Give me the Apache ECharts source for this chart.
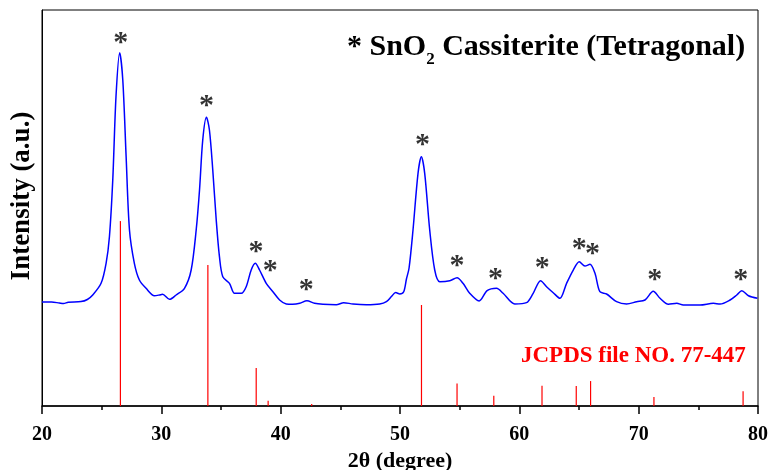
<!DOCTYPE html>
<html><head><meta charset="utf-8">
<script src="https://cdn.jsdelivr.net/npm/echarts@6/dist/echarts.min.js"></script>
<style>html,body{margin:0;padding:0;background:#fff}#c{width:769px;height:470px}</style>
</head><body><div id="c"></div>
<script>
// XRD pattern (2theta in degree, intensity in arbitrary units)
const curveX = [20.0,20.8,21.45,21.8,22.2,23.27,23.8,24.25,24.95,25.37,25.65,25.93,26.2,26.51,26.77,27.05,27.33,27.74,28.16,28.72,29.42,29.84,30.1,30.68,31.24,31.94,32.5,32.92,33.2,33.47,33.78,34.03,34.31,34.6,34.87,35.15,35.71,36.13,36.7,37.11,37.53,37.87,38.23,38.79,39.35,39.91,40.47,41.0,41.6,42.2,42.84,43.54,44.66,45.28,46.06,47.18,48.3,48.86,49.28,49.64,49.98,50.31,50.54,50.76,51.09,51.51,51.79,52.07,52.49,52.91,53.33,54.17,54.78,55.28,55.84,56.63,57.3,58.09,58.64,59.62,60.6,61.16,61.78,62.28,62.84,63.4,63.96,64.52,65.02,65.5,65.92,66.34,66.75,67.31,68.15,68.99,69.83,70.53,71.22,71.79,72.49,73.19,73.74,75.14,76.26,76.82,77.66,78.22,78.64,79.2,79.95];
const curveY = [26.26,26.26,26.01,25.88,26.2,26.36,26.9,28.03,30.98,36.04,42.75,57.07,78.11,89.22,82.32,62.95,44.44,36.04,31.82,29.72,27.85,28.03,28.21,26.94,28.03,29.72,34.34,44.44,54.55,67.17,72.9,69.7,59.6,46.97,37.7,32.65,30.98,28.46,28.46,30.13,34.34,36.04,34.34,30.98,28.86,26.77,25.76,25.68,25.93,26.59,25.93,25.68,25.58,26.09,25.76,25.58,25.76,26.36,27.63,28.64,28.3,28.86,32.07,34.85,44.44,58.76,62.95,58.76,44.44,34.34,31.39,31.64,32.4,30.98,28.46,26.52,29.12,29.72,28.46,25.76,26.09,28.46,31.64,30.13,28.61,27.2,30.98,34.34,36.44,35.35,35.78,33.51,28.86,28.28,26.34,25.76,26.34,26.77,28.96,27.2,25.68,25.93,25.51,25.51,25.93,25.76,26.77,28.03,29.12,27.85,27.2];
// JCPDS 77-447 reference lines
const stickX = [26.57,33.9,37.95,38.95,42.6,51.8,54.78,57.86,61.9,64.77,65.97,71.28,78.75];
const stickY = [46.7,35.6,9.6,1.3,0.5,25.5,5.7,2.6,5.1,5.05,6.3,2.3,3.7];
// asterisk marks
const starX = [26.59,33.78,37.94,39.13,42.15,51.88,54.78,58.0,61.91,65.02,66.14,71.34,78.56];
const starY = [91.59,75.76,38.89,34.09,29.29,65.91,35.18,31.99,34.67,39.57,38.31,31.82,31.82];
const xTicks = [20,30,40,50,60,70,80];

const FONT = '"Liberation Serif","Times New Roman",serif';
const chart = echarts.init(document.getElementById('c'), null, {renderer:'canvas'});
chart.setOption({
  animation:false,
  backgroundColor:'#fff',
  title:{
    text:'{a|* SnO}{s|2}{a| Cassiterite (Tetragonal)}',
    left:347, top:27, padding:0,
    textStyle:{rich:{
      a:{fontSize:30,fontWeight:'bold',fontFamily:FONT,color:'#000',lineHeight:41},
      s:{fontSize:17,fontWeight:'bold',fontFamily:FONT,color:'#000',lineHeight:17,verticalAlign:'bottom'}
    }}
  },
  grid:{left:42,right:11,top:10,bottom:64,show:true,borderColor:'#000',borderWidth:1,containLabel:false,outerBoundsMode:'none'},
  xAxis:{
    type:'value',min:xTicks[0],max:xTicks[xTicks.length-1],interval:10,
    name:'2θ (degree)',nameLocation:'middle',nameGap:42,
    nameTextStyle:{fontSize:22,fontWeight:'bold',fontFamily:FONT,color:'#000'},
    axisLine:{show:true,lineStyle:{color:'#000',width:1.5}},
    axisTick:{show:true,length:8,lineStyle:{color:'#000',width:1.5}},
    minorTick:{show:true,splitNumber:2,length:4,lineStyle:{color:'#000',width:1.5}},
    axisLabel:{fontSize:20,fontWeight:'bold',fontFamily:FONT,color:'#000',margin:19},
    splitLine:{show:false}
  },
  yAxis:{
    type:'value',min:0,max:100,
    axisLine:{show:true,lineStyle:{color:'#000',width:1}},
    axisTick:{show:false},axisLabel:{show:false},splitLine:{show:false}
  },
  graphic:[
    {type:'text',x:22,y:196,rotation:Math.PI/2,
     style:{text:'Intensity (a.u.)',font:'bold 27px '+FONT,fill:'#000',align:'center',verticalAlign:'middle'}},
    {type:'text',x:521,y:356,
     style:{text:'JCPDS file NO. 77-447',font:'bold 23px '+FONT,fill:'#ff0000',align:'left',verticalAlign:'middle'}}
  ],
  series:[
    {
      type:'custom',
      data:stickX.map((x,i)=>[x,stickY[i]]),
      renderItem:function(params,api){
        const p0 = api.coord([api.value(0),0]);
        const p1 = api.coord([api.value(0),api.value(1)]);
        return {type:'line',shape:{x1:p0[0],y1:p0[1],x2:p1[0],y2:p1[1]},style:{stroke:'#ff0000',lineWidth:1.2}};
      },
      silent:true,z:3
    },
    {
      type:'line',
      data:curveX.map((x,i)=>[x,curveY[i]]),
      smooth:0.3,symbol:'none',
      lineStyle:{color:'#0000ff',width:1.5},
      silent:true,z:4
    },
    {
      type:'scatter',
      data:starX.map((x,i)=>[x,starY[i]]),
      symbolSize:1,itemStyle:{color:'rgba(0,0,0,0)'},
      label:{show:true,formatter:'*',position:'inside',offset:[0,19],
        fontSize:30,fontWeight:'bold',fontFamily:FONT,color:'#000'},
      labelLayout:{hideOverlap:false},
      silent:true,z:5
    }
  ]
});
</script>
</body></html>
